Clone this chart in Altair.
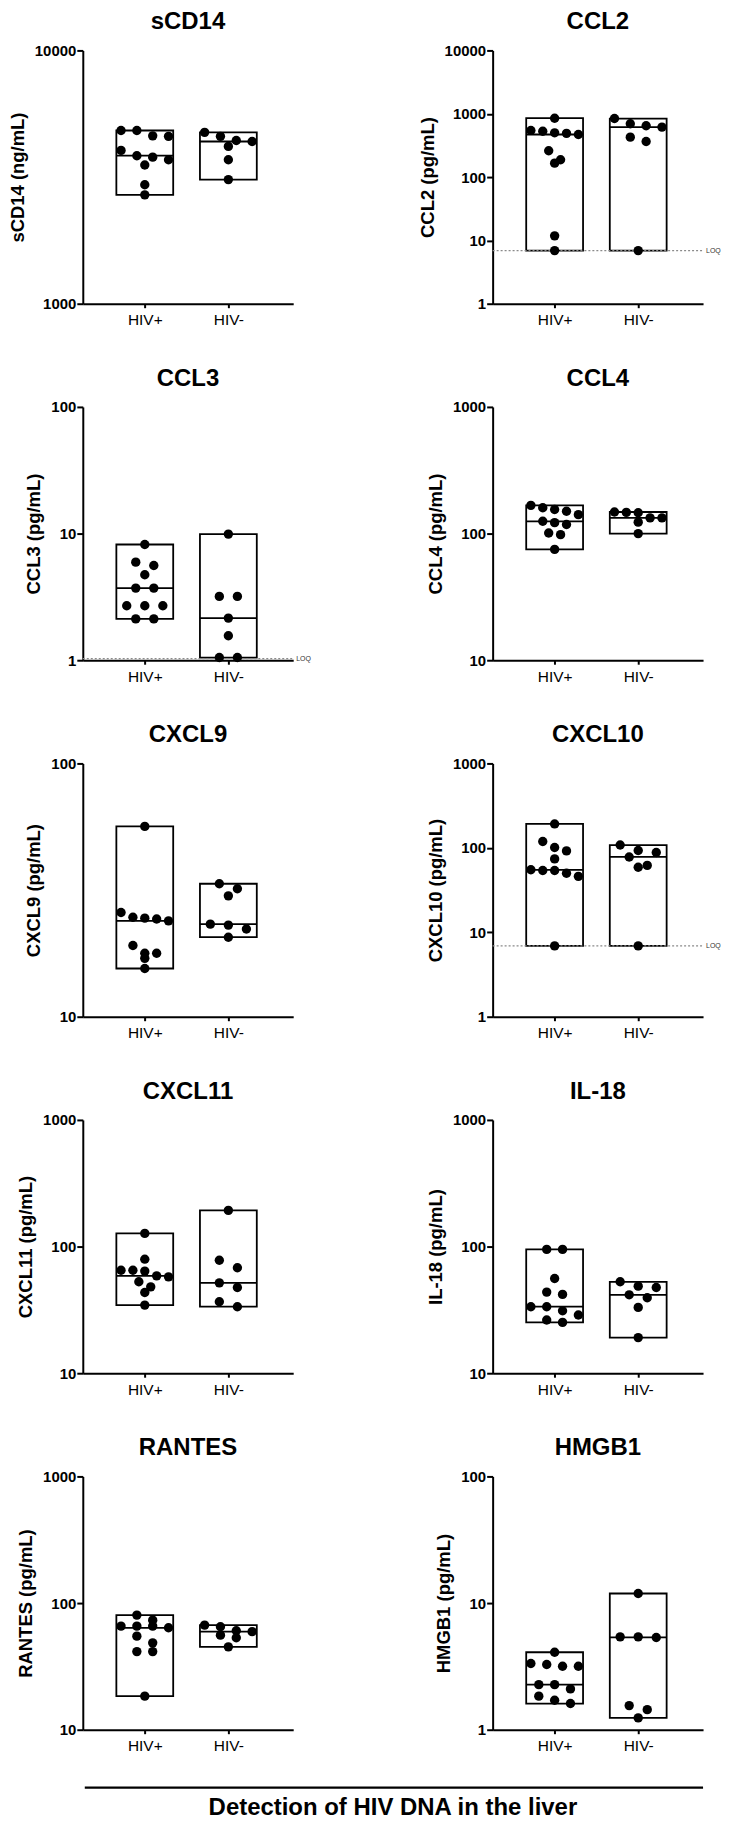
import math
import altair as alt
import pandas as pd

# ---------------- data ----------------
GROUPS = ["HIV+", "HIV-"]
PANELS = ["sCD14", "CCL2", "CCL3", "CCL4", "CXCL9", "CXCL10", "CXCL11", "IL-18", "RANTES", "HMGB1"]
UNITS = ["ng/mL", "pg/mL", "pg/mL", "pg/mL", "pg/mL", "pg/mL", "pg/mL", "pg/mL", "pg/mL", "pg/mL"]
Y_MIN = [1000, 1, 1, 10, 10, 1, 10, 10, 10, 1]
Y_MAX = [10000, 10000, 100, 1000, 100, 1000, 1000, 1000, 1000, 100]
LOQ = [None, 6.9, 1.03, None, None, 6.9, None, None, None, None]
X_TITLE = "Detection of HIV DNA in the liver"

SCD14_POS = [4830, 4830, 4600, 4580, 4030, 3840, 3790, 3700, 3530, 2950, 2690]
SCD14_NEG = [4750, 4580, 4410, 4370, 4180, 3700, 3090]
CCL2_POS = [850, 545, 530, 500, 490, 470, 260, 188, 166, 11.8, 6.9]
CCL2_NEG = [840, 695, 646, 615, 427, 365, 6.9]
CCL3_POS = [8.2, 5.95, 5.6, 4.73, 3.71, 3.71, 2.69, 2.69, 2.69, 2.12, 2.12]
CCL3_NEG = [9.9, 3.19, 3.19, 2.15, 1.56, 1.05, 1.05]
CCL4_POS = [167, 160, 155, 150, 141, 125, 122, 118, 101, 98, 75]
CCL4_NEG = [148, 147, 146, 133, 133, 123, 100]
CXCL9_POS = [56.4, 25.8, 24.7, 24.5, 24.3, 23.9, 19.1, 17.8, 17.8, 17.0, 15.5]
CXCL9_NEG = [33.5, 32.0, 30.0, 23.2, 23.0, 22.2, 20.6]
CXCL10_POS = [192, 119, 101, 92, 74, 55, 54, 54, 50, 46, 6.9]
CXCL10_NEG = [108, 93, 88, 78, 62, 59, 6.9]
CXCL11_POS = [127, 79.5, 65, 65, 64, 58.7, 57.7, 52.7, 48.1, 43.4, 34.5]
CXCL11_NEG = [193, 78, 68, 51.7, 47.5, 36.7, 33.5]
IL18_POS = [95, 95, 56, 43.7, 41.9, 33.5, 33.5, 31.1, 28.8, 26.3, 25.2]
IL18_NEG = [52.7, 48.7, 47.5, 41.6, 39.4, 33.1, 19.1]
RANTES_POS = [80.4, 73.3, 65.8, 65.8, 65.8, 63.8, 54.8, 48.5, 41.4, 41.4, 18.4]
RANTES_NEG = [67, 65, 60.5, 59.5, 55.8, 53.2, 45.1]
HMGB1_POS = [4.09, 3.33, 3.27, 3.17, 3.17, 2.27, 2.27, 2.10, 1.84, 1.71, 1.61]
HMGB1_NEG = [11.9, 5.41, 5.41, 5.35, 1.55, 1.44, 1.24]

SERIES_POS = [SCD14_POS, CCL2_POS, CCL3_POS, CCL4_POS, CXCL9_POS,
              CXCL10_POS, CXCL11_POS, IL18_POS, RANTES_POS, HMGB1_POS]
SERIES_NEG = [SCD14_NEG, CCL2_NEG, CCL3_NEG, CCL4_NEG, CXCL9_NEG,
              CXCL10_NEG, CXCL11_NEG, IL18_NEG, RANTES_NEG, HMGB1_NEG]

# ---------------- layout / style ----------------
FONT = "Liberation Sans, Arial, Helvetica, sans-serif"
W, H = 211, 254
COL_GAP, ROW_GAP = 200, 103.5
X0, X1 = 0.318, 2.716
PX_PER_UNIT = W / (X1 - X0)
BOX_W = 57
DOT_D = 10.6


def swarm_offsets(values, lo, hi):
    """Simple row-based beeswarm (pixel offsets), GraphPad-like."""
    ypix = [H * math.log10(v / lo) / math.log10(hi / lo) for v in values]
    order = sorted(range(len(values)), key=lambda i: -values[i])
    rows = []
    for i in order:
        if rows and abs(ypix[rows[-1][0]] - ypix[i]) < 10:
            rows[-1].append(i)
        else:
            rows.append([i])
    m = max(len(r) for r in rows)
    step = 19 if m <= 1 else min(19, 50 / (m - 1))
    offs = [0.0] * len(values)
    for r in rows:
        n = len(r)
        for k, i in enumerate(r):
            offs[i] = (k - (n - 1) / 2) * step
    return offs


def panel(idx, with_footer=False):
    name, unit = PANELS[idx], UNITS[idx]
    lo, hi = Y_MIN[idx], Y_MAX[idx]
    recs = []
    for gi, vals in enumerate([SERIES_POS[idx], SERIES_NEG[idx]]):
        offs = swarm_offsets(vals, lo, hi)
        for v, o in zip(vals, offs):
            recs.append({"group": GROUPS[gi], "gx": gi + 1, "value": v,
                         "px": gi + 1 + o / PX_PER_UNIT})
    df = pd.DataFrame(recs)

    decades = []
    d = lo
    while d <= hi * 1.0001:
        decades.append(d)
        d *= 10

    xscale = alt.Scale(domain=[X0, X1], nice=False, zero=False)
    yscale = alt.Scale(type="log", domain=[lo, hi], nice=False)
    label_expr = f"datum.value == 1 ? '{GROUPS[0]}' : '{GROUPS[1]}'"
    xaxis = alt.Axis(values=[1, 2], labelExpr=label_expr, title=None, grid=False,
                     domainColor="black", domainWidth=2, tickColor="black",
                     tickWidth=2, tickSize=4, labelFontSize=15.5, labelPadding=5,
                     labelColor="black", labelFont=FONT)
    yaxis = alt.Axis(values=decades, format="d", title=f"{name} ({unit})", grid=False,
                     domainColor="black", domainWidth=2, tickColor="black",
                     tickWidth=2, tickSize=6, labelFontSize=15, labelFontWeight="bold",
                     labelPadding=1, labelColor="black", labelFont=FONT,
                     titleFont=FONT, titleFontSize=18.5, titleFontWeight="bold",
                     titleColor="black", titlePadding=7)

    def X(field):
        return alt.X(field, scale=xscale, axis=xaxis)

    def Y(field):
        return alt.Y(field, scale=yscale, axis=yaxis)

    base = alt.Chart(df)
    bars = base.mark_bar(size=BOX_W, fill="white", stroke="black", strokeWidth=1.8).encode(
        x=X("gx:Q"), y=Y("min(value):Q"), y2=alt.Y2("max(value)"),
    )
    layers = [bars]
    if LOQ[idx] is not None:
        ldf = pd.DataFrame({"loq": [LOQ[idx]], "lab": ["LOQ"]})
        rule = alt.Chart(ldf).mark_rule(color="#8a8a8a", strokeWidth=1.2,
                                        strokeDash=[2, 2]).encode(
            y=Y("loq:Q"), x=alt.value(0), x2=alt.value(W),
        )
        txt = alt.Chart(ldf).mark_text(align="left", baseline="middle", fontSize=7,
                                       font=FONT, color="#333333").encode(
            y=Y("loq:Q"), x=alt.value(W + 3), text="lab:N",
        )
        layers += [rule, txt]
    med = base.mark_tick(orient="horizontal", size=BOX_W, thickness=1.8, color="black").encode(
        x=X("gx:Q"), y=Y("median(value):Q"),
    )
    pts = base.mark_circle(size=math.pi * (DOT_D / 2) ** 2, color="black", opacity=1).encode(
        x=X("px:Q"), y=Y("value:Q"),
    )
    layers += [med, pts]
    if with_footer:
        span = 2 * W + COL_GAP
        fdf = pd.DataFrame({"t": [X_TITLE]})
        fline = alt.Chart(fdf).mark_rule(color="black", strokeWidth=2.2).encode(
            x=alt.value(2), x2=alt.value(span), y=alt.value(H + 58))
        ftxt = alt.Chart(fdf).mark_text(font=FONT, fontSize=24, fontWeight="bold",
                                        color="black", baseline="middle",
                                        align="center").encode(
            x=alt.value(span / 2), y=alt.value(H + 79), text="t:N")
        layers += [fline, ftxt]
    return alt.layer(*layers).properties(
        width=W, height=H,
        title=alt.TitleParams(name, font=FONT, fontSize=24, fontWeight="bold",
                              color="black", anchor="middle", frame="group", offset=9),
    )


panels = [panel(i, with_footer=(i == 8)) for i in range(len(PANELS))]
chart = alt.concat(*panels, columns=2, spacing={"row": ROW_GAP, "column": COL_GAP},
                   bounds="flush").properties(
    padding=0, background="white"
).configure_view(stroke=None)

chart.save("out.html", embed_options={"renderer": "svg", "actions": False})
